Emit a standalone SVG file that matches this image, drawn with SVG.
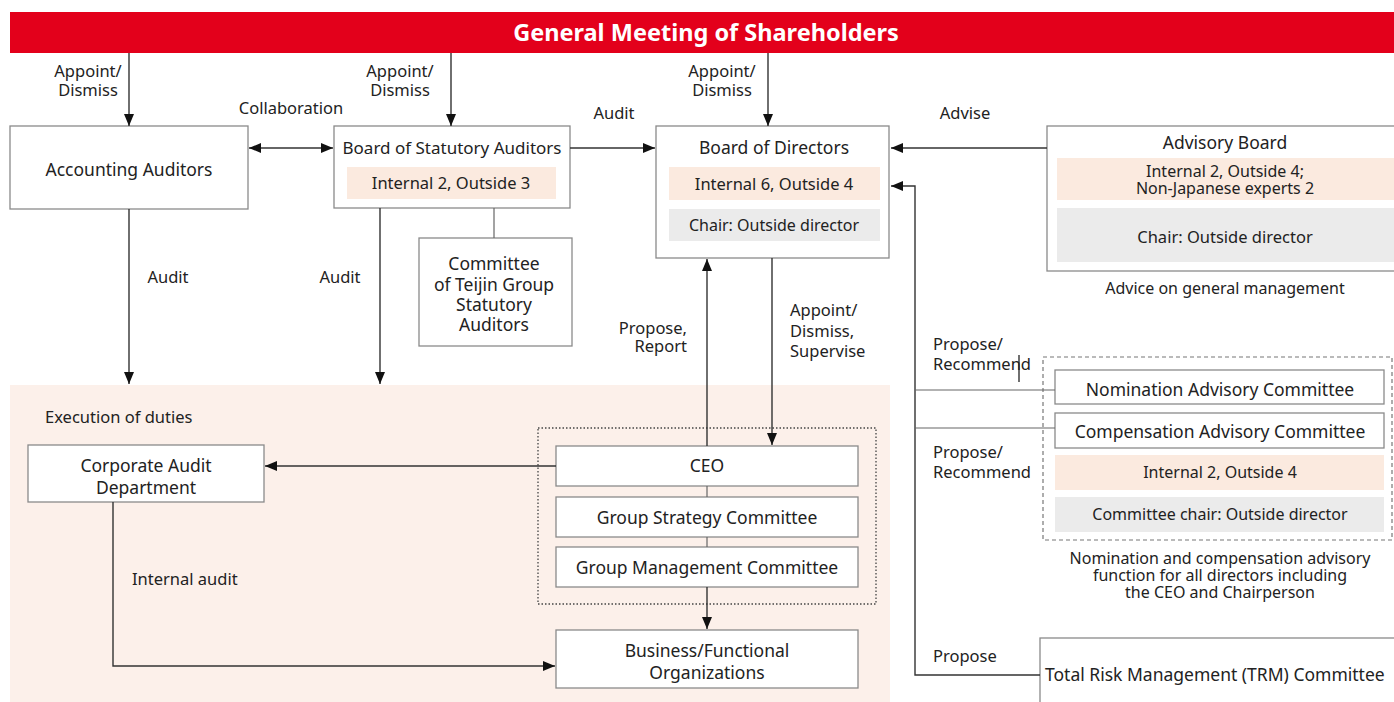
<svg xmlns="http://www.w3.org/2000/svg" width="1394" height="702" viewBox="0 0 1394 702">
  <style>
    text { font-family: "Noto Sans", "Open Sans", "DejaVu Sans", sans-serif; font-size: 16.5px; fill: #222; }
    .c { text-anchor: middle; }
    .t { font-size: 17.5px; }
    .r { font-size: 16px; }
    .title { font-size: 23.5px; font-weight: bold; fill: #fff; }
    .box { fill: #fff; stroke: #8a8a8a; stroke-width: 1.3; }
    .pink { fill: #fbeadf; }
    .gray { fill: #ebebeb; }
    .ln { fill: none; stroke: #333; stroke-width: 1.4; }
    .thin { fill: none; stroke: #666; stroke-width: 1.2; }
  </style>
  <defs>
    <marker id="ah" viewBox="0 0 12 10" refX="12" refY="5" markerWidth="12" markerHeight="10" markerUnits="userSpaceOnUse" orient="auto-start-reverse">
      <path d="M0,0 L12,5 L0,10 z" fill="#111"/>
    </marker>
  </defs>

  <rect width="1394" height="702" fill="#fff"/>

  <!-- execution area background -->
  <rect id="execution-area" x="10" y="385" width="880" height="317" fill="#fcf0ea"/>
  <text x="45" y="423">Execution of duties</text>

  <!-- shareholders bar -->
  <g id="shareholders">
    <rect x="10" y="12" width="1384" height="41" fill="#e3001b"/>
    <text class="title c" x="706" y="41">General Meeting of Shareholders</text>
  </g>

  <g id="accounting-auditors">
    <rect class="box" x="10" y="126" width="238" height="83"/>
    <text class="c t" x="129" y="176">Accounting Auditors</text>
  </g>

  <g id="statutory-auditors">
    <rect class="box" x="334" y="126" width="236" height="82"/>
    <text class="c" x="452" y="154" style="font-size:17px">Board of Statutory Auditors</text>
    <rect class="pink" x="347" y="167" width="209" height="32"/>
    <text class="c" x="451" y="189">Internal 2, Outside 3</text>
  </g>

  <g id="teijin-committee">
    <rect class="box" x="419" y="238" width="153" height="108"/>
    <text class="c t" x="494" y="270">Committee</text>
    <text class="c t" x="494" y="291">of Teijin Group</text>
    <text class="c t" x="494" y="311">Statutory</text>
    <text class="c t" x="494" y="331">Auditors</text>
  </g>

  <g id="board-of-directors">
    <rect class="box" x="656" y="126" width="233" height="132"/>
    <text class="c t" x="774" y="154">Board of Directors</text>
    <rect class="pink" x="669" y="167" width="211" height="33"/>
    <text class="c" x="774" y="190">Internal 6, Outside 4</text>
    <rect class="gray" x="669" y="209" width="211" height="32"/>
    <text class="c r" x="774" y="231">Chair: Outside director</text>
  </g>

  <g id="advisory-board">
    <rect class="box" x="1047" y="126" width="352" height="145"/>
    <text class="c t" x="1225" y="149">Advisory Board</text>
    <rect class="pink" x="1057" y="158" width="337" height="42"/>
    <text class="c r" x="1225" y="177">Internal 2, Outside 4;</text>
    <text class="c r" x="1225" y="194">Non-Japanese experts 2</text>
    <rect class="gray" x="1057" y="208" width="337" height="54"/>
    <text class="c" x="1225" y="243">Chair: Outside director</text>
    <text class="c r" x="1225" y="294">Advice on general management</text>
  </g>

  <g id="advisory-committees">
    <rect x="1043" y="357" width="349" height="183" fill="none" stroke="#777" stroke-width="1.2" stroke-dasharray="4 3"/>
    <rect class="box" x="1055" y="370" width="329" height="34"/>
    <text class="c t" x="1220" y="396">Nomination Advisory Committee</text>
    <rect class="box" x="1055" y="413" width="329" height="35"/>
    <text class="c t" x="1220" y="438">Compensation Advisory Committee</text>
    <rect class="pink" x="1055" y="455" width="329" height="35"/>
    <text class="c r" x="1220" y="478">Internal 2, Outside 4</text>
    <rect class="gray" x="1055" y="497" width="329" height="35"/>
    <text class="c r" x="1220" y="520">Committee chair: Outside director</text>
    <text class="c r" x="1220" y="564">Nomination and compensation advisory</text>
    <text class="c r" x="1220" y="581">function for all directors including</text>
    <text class="c r" x="1220" y="598">the CEO and Chairperson</text>
  </g>

  <g id="trm-committee">
    <rect class="box" x="1040" y="638" width="360" height="70"/>
    <text class="t" x="1045" y="681">Total Risk Management (TRM) Committee</text>
  </g>

  <g id="corporate-audit">
    <rect class="box" x="28" y="445" width="236" height="57"/>
    <text class="c t" x="146" y="472">Corporate Audit</text>
    <text class="c t" x="146" y="494">Department</text>
  </g>

  <g id="executive-group">
    <rect x="538" y="428" width="338" height="176" fill="none" stroke="#444" stroke-width="1.3" stroke-dasharray="1.5 2"/>
    <rect class="box" x="556" y="446" width="302" height="40"/>
    <text class="c t" x="707" y="472">CEO</text>
    <rect class="box" x="556" y="497" width="302" height="40"/>
    <text class="c t" x="707" y="524">Group Strategy Committee</text>
    <rect class="box" x="556" y="547" width="302" height="40"/>
    <text class="c t" x="707" y="574">Group Management Committee</text>
  </g>

  <g id="business-organizations">
    <rect class="box" x="556" y="630" width="302" height="58"/>
    <text class="c t" x="707" y="657">Business/Functional</text>
    <text class="c t" x="707" y="679">Organizations</text>
  </g>

  <!-- connectors -->
  <g id="connectors">
    <path class="ln" d="M129,53 V126" marker-end="url(#ah)"/>
    <path class="ln" d="M451,53 V126" marker-end="url(#ah)"/>
    <path class="ln" d="M768,53 V126" marker-end="url(#ah)"/>
    <path class="ln" d="M249,148 H333" marker-start="url(#ah)" marker-end="url(#ah)"/>
    <path class="ln" d="M570,148 H655" marker-end="url(#ah)"/>
    <path class="ln" d="M1047,148 H891" marker-end="url(#ah)"/>
    <path class="ln" d="M1040,675 H915 V186 H891" marker-end="url(#ah)"/>
    <path class="thin" d="M915,390 H1055"/>
    <path class="thin" d="M915,428 H1055"/>
    <path class="ln" d="M1019,355 V382"/>
    <path class="ln" d="M129,209 V384" marker-end="url(#ah)"/>
    <path class="ln" d="M380,208 V384" marker-end="url(#ah)"/>
    <path class="thin" d="M494,208 V238"/>
    <path class="ln" d="M707,446 V259" marker-end="url(#ah)"/>
    <path class="ln" d="M772,258 V445" marker-end="url(#ah)"/>
    <path class="ln" d="M556,466 H265" marker-end="url(#ah)"/>
    <path class="ln" d="M113,502 V666 H555" marker-end="url(#ah)"/>
    <path class="thin" d="M707,486 V497"/>
    <path class="thin" d="M707,537 V547"/>
    <path class="ln" d="M707,587 V629" marker-end="url(#ah)"/>
  </g>

  <!-- connector labels -->
  <g id="labels">
    <text class="c" x="88" y="77">Appoint/</text>
    <text class="c" x="88" y="96">Dismiss</text>
    <text class="c" x="400" y="77">Appoint/</text>
    <text class="c" x="400" y="96">Dismiss</text>
    <text class="c" x="722" y="77">Appoint/</text>
    <text class="c" x="722" y="96">Dismiss</text>
    <text class="c" x="291" y="114">Collaboration</text>
    <text class="c" x="614" y="119">Audit</text>
    <text class="c" x="965" y="119">Advise</text>
    <text class="c" x="168" y="283">Audit</text>
    <text class="c" x="340" y="283">Audit</text>
    <text x="687" y="334" text-anchor="end">Propose,</text>
    <text x="687" y="352" text-anchor="end">Report</text>
    <text x="790" y="316">Appoint/</text>
    <text x="790" y="337">Dismiss,</text>
    <text x="790" y="357">Supervise</text>
    <text x="933" y="350">Propose/</text>
    <text x="933" y="370">Recommend</text>
    <text x="933" y="458">Propose/</text>
    <text x="933" y="478">Recommend</text>
    <text x="933" y="662">Propose</text>
    <text x="132" y="585">Internal audit</text>
  </g>
</svg>
